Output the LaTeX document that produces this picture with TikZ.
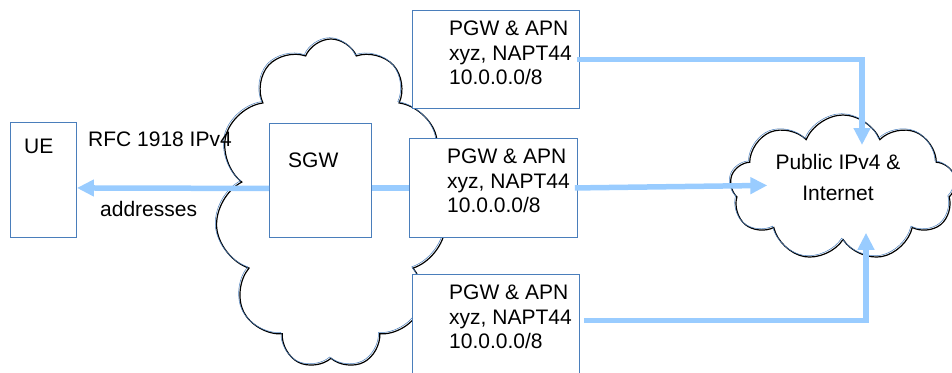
\documentclass[tikz,border=0pt]{standalone}
\usepackage{fontspec}
\setmainfont{Liberation Sans}
\usepackage{tikz}
\usetikzlibrary{shapes.symbols}
\usetikzlibrary{arrows.meta}
\definecolor{boxblue}{RGB}{74,126,187}
\definecolor{linkblue}{RGB}{153,204,255}

\begin{document}
\begin{tikzpicture}[x=1pt,y=-1pt,>={Triangle[length=17pt,width=16pt]},
                    every node/.style={font=\fontsize{21}{24.5}\selectfont},
                    box node/.style={rectangle,draw=boxblue,line width=0.9pt,fill=white,anchor=north west,inner sep=0pt},
                    label node/.style={anchor=base west,inner sep=0pt},
                    pgw text/.style={align=left,anchor=north west,inner sep=0pt},
                    cloud node/.style={cloud,cloud puffs=11,cloud puff arc=135,cloud ignores aspect,
                                       draw=black,line width=1.2pt,fill=white,inner sep=0pt},
                    cloud edge/.style={cloud node,draw=boxblue,fill=none,line width=0.5pt,xshift=-1.3pt,yshift=1.3pt},
                    link/.style={linkblue,line width=5.5pt}]

  \useasboundingbox (0,0) rectangle (952,372);

  % clouds
  \node[cloud node,minimum width=231pt,minimum height=330pt] (core) at (331,204) {};
  \node[cloud edge,minimum width=231pt,minimum height=330pt] (coreedge) at (331,204) {};
  \node[cloud node,cloud puffs=9,minimum width=226pt,minimum height=146pt] (inet) at (843,188) {};
  \node[cloud edge,cloud puffs=9,minimum width=226pt,minimum height=146pt] (inetedge) at (843,188) {};

  % boxes
  \node[box node,minimum width=66pt,minimum height=115pt] (ue) at (10,122) {};
  \node[box node,minimum width=102pt,minimum height=114pt] (sgw) at (269,123) {};
  \node[box node,minimum width=167pt,minimum height=98pt] (pgwA) at (412,10) {};
  \node[box node,minimum width=168pt,minimum height=99pt] (pgwB) at (409,138) {};
  \node[box node,minimum width=167pt,minimum height=100pt] (pgwC) at (412,274) {};

  % texts
  \node[label node] (uetext) at (24,153) {UE};
  \node[label node] (sgwtext) at (288,167) {SGW};
  \node[label node] (rfc) at (88,146) {RFC 1918 IPv4};
  \node[label node] (addr) at (100,216) {addresses};
  \node[pgw text] (pgwAtext) at (449,21) {PGW \& APN\\xyz, NAPT44\\10.0.0.0/8};
  \node[pgw text] (pgwBtext) at (447,149) {PGW \& APN\\xyz, NAPT44\\10.0.0.0/8};
  \node[pgw text] (pgwCtext) at (449,285) {PGW \& APN\\xyz, NAPT44\\10.0.0.0/8};
  \node[align=center,anchor=north,inner sep=0pt] (inettext) at (838,154) {Public IPv4 \&\\[6.5pt]Internet};

  % links
  \draw[link,->] ([yshift=-8pt]sgw.west) -- ([yshift=-8pt]ue.east);
  \draw[link] (sgw.east |- pgwB.west) -- (pgwB.west);
  \draw[link,->] ([xshift=-3pt]pgwA.east) -| ([xshift=24pt,yshift=9pt]inettext.north);
  \draw[link,->] ([xshift=-3pt]pgwB.east) -- ([xshift=-8pt,yshift=-8pt]inettext.west);
  \draw[link,->] ([xshift=4pt,yshift=4pt]pgwC.east) -| ([xshift=28pt,yshift=-32pt]inettext.south);

\end{tikzpicture}
\end{document}
